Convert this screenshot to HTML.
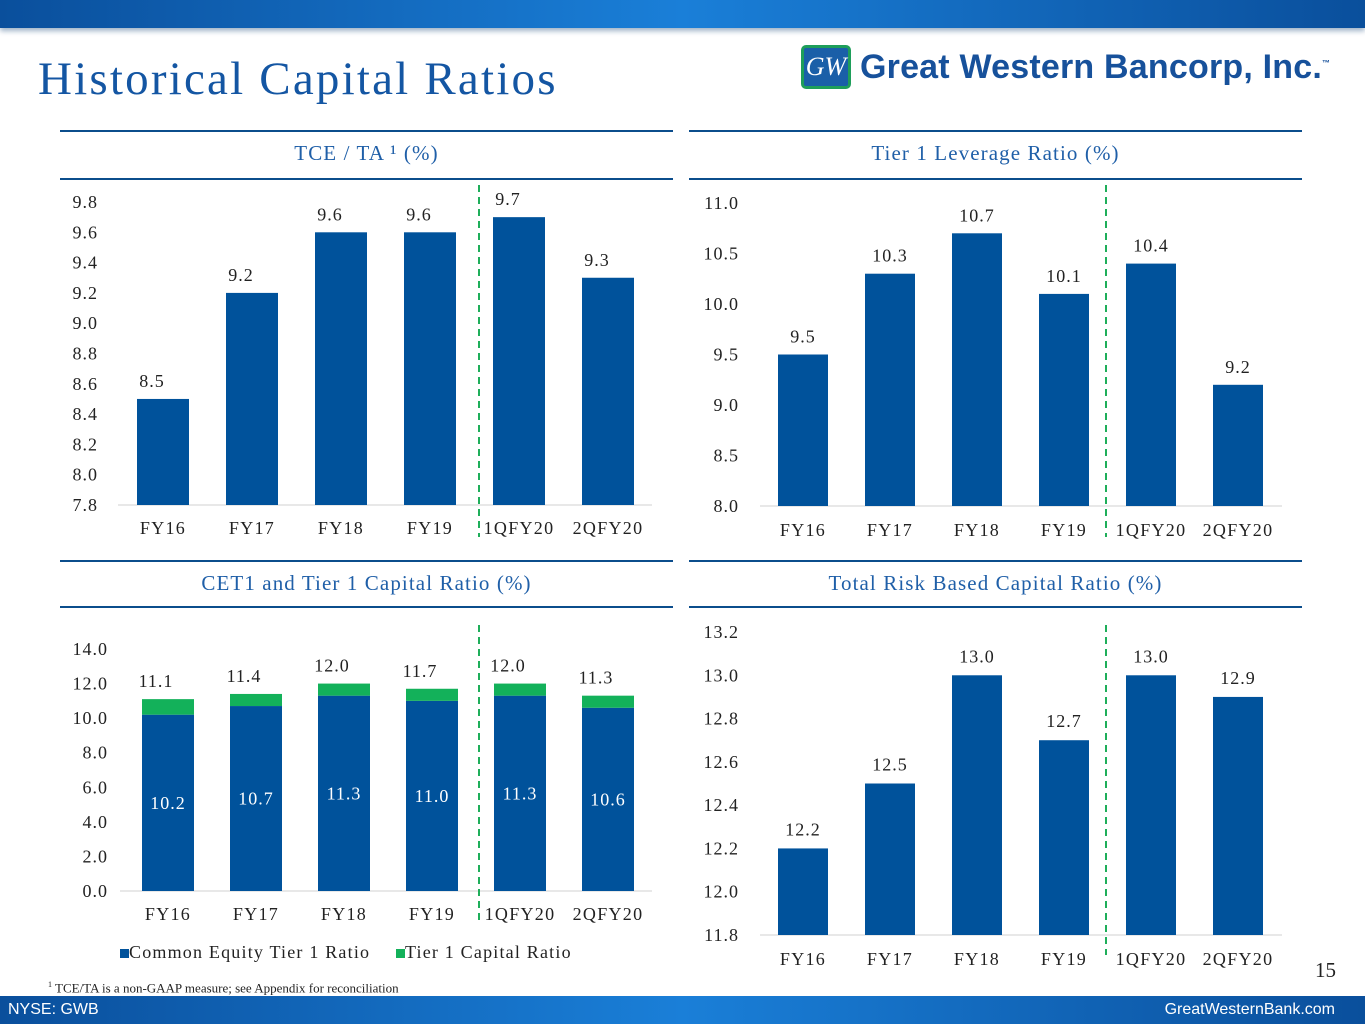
<!DOCTYPE html>
<html><head><meta charset="utf-8">
<style>
body{margin:0;width:1365px;height:1024px;position:relative;overflow:hidden;background:#fff;font-family:"Liberation Serif",serif;}
.abs{position:absolute;}
.hdrline{position:absolute;height:2px;background:#0b4d8c;}
.sect{position:absolute;text-align:center;color:#1f5fa8;font-size:21px;width:613px;letter-spacing:1.1px}
svg text{letter-spacing:1px}
</style></head><body>
<div class="abs" style="left:0;top:0;width:1365px;height:28px;background:linear-gradient(90deg,#0a4f9c,#1a7fd8 50%,#0a4f9c);box-shadow:0 3px 5px #9fb3c8"></div>
<div class="abs" style="left:38px;top:52px;font-size:47px;color:#1456a3;letter-spacing:2.2px">Historical Capital Ratios</div>
<div class="abs" style="left:801px;top:45px;width:50px;height:44px;background:#1a5fa8;border:3px solid #1e9e5a;border-radius:5px;box-sizing:border-box;color:#fff;font-style:italic;font-size:26px;text-align:center;line-height:38px">GW</div>
<div class="abs" style="left:860px;top:48px;font-family:'Liberation Sans',sans-serif;font-weight:bold;font-size:34px;color:#17519b;letter-spacing:0.2px">Great Western Bancorp, Inc.<sup style="font-size:8px">™</sup></div>

<div class="hdrline" style="left:60px;top:130px;width:613px"></div>
<div class="hdrline" style="left:60px;top:178px;width:613px"></div>
<div class="hdrline" style="left:689px;top:130px;width:613px"></div>
<div class="hdrline" style="left:689px;top:178px;width:613px"></div>
<div class="hdrline" style="left:60px;top:560px;width:613px"></div>
<div class="hdrline" style="left:60px;top:606px;width:613px"></div>
<div class="hdrline" style="left:689px;top:560px;width:613px"></div>
<div class="hdrline" style="left:689px;top:606px;width:613px"></div>
<div class="sect" style="left:60px;top:141px">TCE / TA ¹ (%)</div>
<div class="sect" style="left:689px;top:141px">Tier 1 Leverage Ratio (%)</div>
<div class="sect" style="left:60px;top:571px">CET1 and Tier 1 Capital Ratio (%)</div>
<div class="sect" style="left:689px;top:571px">Total Risk Based Capital Ratio (%)</div>

<svg class="abs" id="charts" style="left:0;top:0" width="1365" height="1024"></svg>

<div class="abs" style="left:120px;top:942px;font-size:18px;color:#222;letter-spacing:1.2px">
<span><span style="display:inline-block;width:9px;height:9px;background:#00529b"></span>Common Equity Tier 1 Ratio</span>
<span style="margin-left:20px"><span style="display:inline-block;width:9px;height:9px;background:#13b15a"></span>Tier 1 Capital Ratio</span></div>
<div class="abs" style="left:1315px;top:958px;font-size:21px;color:#222">15</div>
<div class="abs" style="left:48px;top:980px;font-size:13px;color:#222"><sup style="font-size:8px">1</sup> TCE/TA is a non-GAAP measure; see Appendix for reconciliation</div>
<div class="abs" style="left:0;top:996px;width:1365px;height:28px;background:linear-gradient(90deg,#0a4f9c,#1a7fd8 50%,#0a4f9c);font-family:'Liberation Sans',sans-serif;color:#fff;font-size:16px">
<span style="position:absolute;left:8px;top:5px">NYSE: GWB</span>
<span style="position:absolute;right:30px;top:5px">GreatWesternBank.com</span></div>

<script>
const categories=["FY16","FY17","FY18","FY19","1QFY20","2QFY20"];
const tceValues=[8.5,9.2,9.6,9.6,9.7,9.3];
const tceTicks=["7.8","8.0","8.2","8.4","8.6","8.8","9.0","9.2","9.4","9.6","9.8"];
const levValues=[9.5,10.3,10.7,10.1,10.4,9.2];
const levTicks=["8.0","8.5","9.0","9.5","10.0","10.5","11.0"];
const cet1Values=[10.2,10.7,11.3,11.0,11.3,10.6];
const tier1Values=[11.1,11.4,12.0,11.7,12.0,11.3];
const cetTicks=["0.0","2.0","4.0","6.0","8.0","10.0","12.0","14.0"];
const trbcValues=[12.2,12.5,13.0,12.7,13.0,12.9];
const trbcTicks=["11.8","12.0","12.2","12.4","12.6","12.8","13.0","13.2"];

const svg=document.getElementById('charts');
const NS="http://www.w3.org/2000/svg";
function mk(tag,attrs,txt){const e=document.createElementNS(NS,tag);for(const k in attrs)e.setAttribute(k,attrs[k]);if(txt!==undefined)e.textContent=txt;svg.appendChild(e);return e;}

function chart(cfg){
  const lo=parseFloat(cfg.ticks[0]),hi=parseFloat(cfg.ticks[cfg.ticks.length-1]);
  const y=v=>cfg.yBot-(v-lo)/(hi-lo)*(cfg.yBot-cfg.yTop);
  const x=i=>cfg.x0+i*cfg.step;
  cfg.ticks.forEach(t=>{
    const e=mk('text',{x:cfg.tickX,y:y(parseFloat(t))+6,'text-anchor':'end','font-size':18,fill:'#222','font-family':'Liberation Serif, serif'},t);
    
    
  });
  const ax=mk('line',{x1:cfg.axL,x2:cfg.axR,y1:cfg.yBot,y2:cfg.yBot,stroke:'#d0d0d0','stroke-width':1});
  
  
  categories.forEach((c,i)=>{
    const e=mk('text',{x:x(i),y:cfg.catY,'text-anchor':'middle','font-size':18,fill:'#222','font-family':'Liberation Serif, serif','style':'letter-spacing:1.3px'},c);
    
    
  });
  cfg.series.forEach((s,si)=>{
    s.values.forEach((v,i)=>{
      const base=si>0?cfg.series[si-1].values[i]:lo;
      const r=mk('rect',{x:x(i)-cfg.bw/2,y:y(v),width:cfg.bw,height:y(base)-y(v),fill:s.color});
      
      
      if(s.inside){
        const t=mk('text',{x:x(i),y:(y(v)+y(base))/2+6,'text-anchor':'middle','font-size':18,fill:'#fff','font-family':'Liberation Serif, serif'},v.toFixed(1));
        
        
      }else{
        const t=mk('text',{x:x(i)+(cfg.lblDx||0),y:y(v)-cfg.lblGap,'text-anchor':'middle','font-size':18,fill:'#222','font-family':'Liberation Serif, serif'},v.toFixed(1));
        
        
      }
    });
  });
  const d=mk('line',{x1:cfg.dashX,x2:cfg.dashX,y1:cfg.dashT,y2:cfg.dashB,stroke:'#1fae5a','stroke-width':2,'stroke-dasharray':'7,5'});
  
  
}
chart({ticks:tceTicks,yTop:202,yBot:505,x0:163,step:89,bw:52,tickX:98,axL:118,axR:652,catY:534,dashX:479,dashT:185,dashB:537,lblGap:12,lblDx:-11,
  series:[{name:'tce',values:tceValues,color:'#00529b'}]});
chart({ticks:levTicks,yTop:203,yBot:506,x0:803,step:87,bw:50,tickX:739,axL:760,axR:1282,catY:536,dashX:1106,dashT:185,dashB:537,lblGap:12,
  series:[{name:'leverage',values:levValues,color:'#00529b'}]});
chart({ticks:cetTicks,yTop:649,yBot:891,x0:168,step:88,bw:52,tickX:108,axL:120,axR:652,catY:920,dashX:479,dashT:625,dashB:925,lblGap:12,lblDx:-12,
  series:[{name:'cet1',values:cet1Values,color:'#00529b',inside:true},{name:'tier1',values:tier1Values,color:'#13b15a'}]});
chart({ticks:trbcTicks,yTop:632,yBot:935,x0:803,step:87,bw:50,tickX:739,axL:760,axR:1282,catY:965,dashX:1106,dashT:625,dashB:955,lblGap:13,
  series:[{name:'trbc',values:trbcValues,color:'#00529b'}]});
</script>
</body></html>
